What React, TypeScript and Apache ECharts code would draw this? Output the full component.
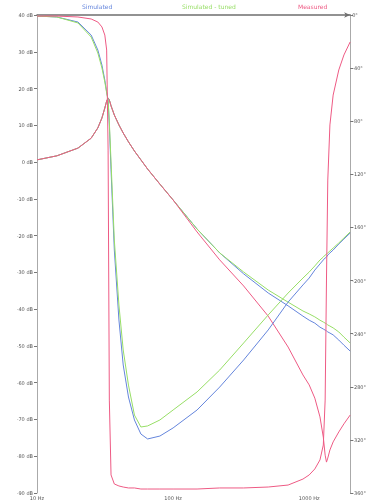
import React, { useEffect, useRef } from "react";
import * as echarts from "echarts";

// Frequency grid (Hz)
const freqs = [10, 14, 20, 25, 28, 30, 31.5, 32.5, 33.3, 34, 35, 37, 40, 43, 47, 52, 58, 65, 80, 100, 150, 220, 330, 500, 700, 900, 1000, 1100, 1200, 1270, 1310, 1340, 1370, 1420, 1500, 1650, 1800, 2000];

// Magnitudes (dB, left axis)
const blueMag = [0.6, 1.7, 3.8, 6.5, 9.3, 12.0, 14.7, 16.6, 17.4, 16.9, 15.3, 12.8, 10.1, 7.9, 5.5, 3.0, 0.6, -1.9, -6.0, -10.3, -18.2, -24.7, -30.4, -35.6, -39.1, -41.9, -43.0, -43.8, -44.9, -45.4, -45.7, -45.9, -46.2, -46.5, -47.0, -48.4, -49.8, -51.4];
const greenMag = [0.6, 1.7, 3.8, 6.5, 9.3, 12.0, 14.7, 16.6, 17.4, 16.9, 15.3, 12.8, 10.1, 7.9, 5.5, 3.0, 0.6, -1.9, -6.0, -10.3, -18.2, -24.7, -29.9, -34.8, -38.1, -40.5, -41.3, -42.1, -43.0, -43.5, -43.8, -44.0, -44.3, -44.6, -45.1, -46.2, -47.6, -49.2];
const redMag = [0.6, 1.7, 3.8, 6.5, 9.3, 12.0, 14.7, 16.6, 17.4, 16.9, 15.3, 12.8, 10.1, 7.9, 5.5, 3.0, 0.6, -1.9, -6.0, -10.3, -19.0, -26.6, -33.7, -41.9, -50.3, -57.9, -60.6, -64.2, -69.3, -74.8, -79.7, -81.6, -80.5, -78.3, -76.1, -73.4, -71.2, -68.8];

// Phases (degrees, right axis)
const bluePhase = [-0.8, -1.5, -5.3, -15.1, -26.4, -37.7, -49.0, -58.0, -64.0, -82.8, -116.7, -177.0, -229.7, -263.6, -287.7, -305.0, -315.6, -319.3, -317.1, -311.0, -297.5, -280.2, -259.8, -237.2, -216.2, -203.3, -198.1, -192.1, -187.5, -184.5, -183.0, -182.3, -180.8, -179.2, -177.0, -172.5, -168.7, -164.2];
const greenPhase = [-0.8, -1.5, -6.0, -16.6, -28.6, -39.9, -50.5, -58.7, -64.0, -80.6, -110.7, -169.5, -218.4, -252.3, -278.7, -301.3, -310.3, -309.5, -305.0, -297.5, -283.9, -267.4, -247.0, -225.9, -209.4, -198.1, -193.6, -189.0, -184.5, -182.3, -180.8, -180.0, -179.2, -177.7, -175.5, -171.7, -167.9, -163.4];
const redPhase = [-0.8, -0.8, -1.5, -3.0, -5.3, -9.0, -15.1, -26.4, -101.7, -290.0, -346.4, -353.2, -354.7, -355.5, -356.2, -356.2, -357.0, -357.0, -357.0, -357.0, -357.0, -356.2, -356.2, -355.5, -354.0, -349.5, -346.4, -341.9, -335.1, -323.9, -290.0, -199.6, -124.3, -82.8, -60.3, -41.4, -30.1, -20.3];

const seriesNames = ["Simulated", "Simulated - tuned", "Measured"];
const colors = ["#6485dc", "#97de66", "#ee5a84"];

export default function App() {
  const ref = useRef<HTMLDivElement>(null);
  useEffect(() => {
    if (!ref.current) return;
    const chart = echarts.init(ref.current, undefined, { renderer: "svg" });
    const pair = (vals: number[]) => freqs.map((f, i) => [f, vals[i]]);
    const line = (name: string, color: string, vals: number[], yAxisIndex: number) => ({
      name,
      type: "line",
      data: pair(vals),
      yAxisIndex,
      showSymbol: false,
      symbol: "none",
      lineStyle: { color, width: 1 },
      itemStyle: { color },
      z: 2,
    });
    const legendPos = [77, 177, 293];
    chart.setOption({
      animation: false,
      legend: seriesNames.map((n, i) => ({
        data: [{ name: n, icon: "none", textStyle: { color: colors[i] } }],
        left: legendPos[i],
        top: 3,
        padding: 0,
        itemWidth: 0,
        itemHeight: 0,
        itemGap: 0,
        textStyle: { fontSize: 6, fontFamily: "DejaVu Sans" },
        selectedMode: false,
      })),
      grid: { left: 37, right: 11, top: 15, bottom: 9, containLabel: false },
      xAxis: [
        {
          type: "log",
          min: 10,
          max: 2000,
          logBase: 10,
          position: "bottom",
          axisLine: { show: false },
          axisTick: { show: false },
          splitLine: { show: false },
          minorTick: { show: false },
          axisLabel: {
            fontSize: 5,
            color: "#555",
            margin: 2,
            showMaxLabel: false,
            fontFamily: "DejaVu Sans",
            formatter: (v: number) => (v >= 2000 ? "" : `${v} Hz`),
          },
        },
        {
          type: "log",
          min: 10,
          max: 2000,
          logBase: 10,
          position: "top",
          axisLine: { show: true, lineStyle: { color: "#6f6f6f", width: 1.5 }, symbol: ["none", "arrow"], symbolSize: [4, 6] },
          axisTick: { show: false },
          axisLabel: { show: false },
          splitLine: { show: false },
        },
      ],
      yAxis: [
        {
          type: "value",
          min: -90,
          max: 40,
          interval: 10,
          position: "left",
          axisLine: { show: true, lineStyle: { color: "#aaa", width: 1 } },
          axisTick: { show: true, length: 3, lineStyle: { color: "#777" } },
          splitLine: { show: false },
          axisLabel: { fontSize: 5, color: "#555", margin: 4, fontFamily: "DejaVu Sans", formatter: "{value} dB" },
        },
        {
          type: "value",
          min: -360,
          max: 0,
          interval: 40,
          position: "right",
          axisLine: { show: true, lineStyle: { color: "#aaa", width: 1 } },
          axisTick: { show: true, length: 3, lineStyle: { color: "#777" } },
          splitLine: { show: false },
          axisLabel: { fontSize: 5, color: "#555", margin: 2, fontFamily: "DejaVu Sans", formatter: "{value}°" },
        },
      ],
      series: [
        line(seriesNames[0], colors[0], blueMag, 0),
        line(seriesNames[1], colors[1], greenMag, 0),
        line(seriesNames[2], colors[2], redMag, 0),
        line(seriesNames[0], colors[0], bluePhase, 1),
        line(seriesNames[1], colors[1], greenPhase, 1),
        line(seriesNames[2], colors[2], redPhase, 1),
      ],
    });
    return () => chart.dispose();
  }, []);
  return <div ref={ref} style={{ position: "fixed", left: 0, top: 0, width: 369, height: 502 }} />;
}
